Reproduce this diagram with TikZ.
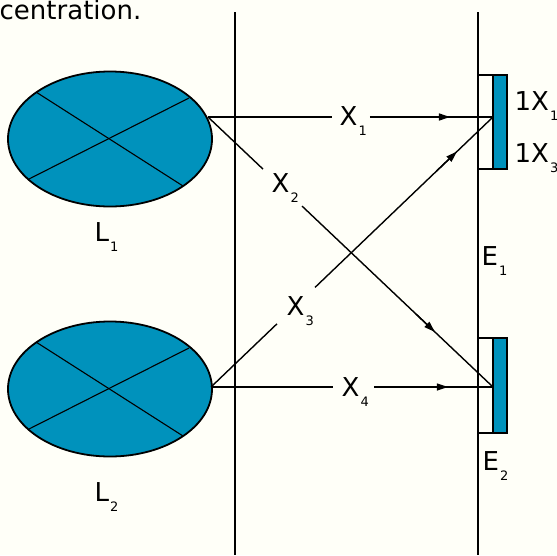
\documentclass[tikz,border=0pt]{standalone}
\usepackage{fontspec}
\setmainfont{DejaVu Sans}
\usetikzlibrary{arrows.meta,shapes.geometric,calc}
\definecolor{bg}{HTML}{FFFFF8}
\definecolor{lensblue}{HTML}{0092BC}
\newcommand\sublab[2]{#1\kern1pt\raisebox{-10pt}{\fontsize{13}{13}\selectfont #2}}
\begin{document}
\begin{tikzpicture}[x=1pt,y=-1pt,line width=1.4pt,
  lens/.style={ellipse,draw,fill=lensblue,line width=1.8pt,minimum width=204pt,minimum height=135pt,inner sep=0pt},
  cross/.style={line width=1.1pt},
  arr/.style={-{Triangle[length=11pt,width=7pt]}},
  wall/.style={line width=1.8pt},
  lbl/.style={font=\fontsize{26}{26}\selectfont,anchor=base west,inner sep=0pt},
  detw/.style={draw,fill=bg,line width=1.5pt},
  detb/.style={draw,fill=lensblue,line width=1.5pt}]
\fill[bg] (0,0) rectangle (557,555);
\useasboundingbox (0,0) rectangle (557,555);
% title fragment
\node[anchor=base west,inner sep=0pt,font=\fontsize{26}{26}\selectfont] (title) at (-1,19) {centration.};
% walls
\coordinate (w1t) at (235,12); \coordinate (w1b) at (235,555);
\coordinate (w2t) at (478,12); \coordinate (w2b) at (478,555);
\draw[wall] (w1t) -- (w1b);
\draw[wall] (w2t) -- (w2b);
% lenses
\node[lens] (L1) at (110,139) {};
\draw[cross] (L1.center) ++(-74,-47) -- ++(147,94);
\draw[cross] (L1.center) ++(79,-41) -- ++(-160,81);
\node[lens] (L2) at (110,389) {};
\draw[cross] (L2.center) ++(-74,-47) -- ++(147,94);
\draw[cross] (L2.center) ++(79,-41) -- ++(-160,81);
% detectors
\draw[detw] (478,75) rectangle (493,169);
\draw[detb] (493,75) rectangle (507,169);
\draw[detw] (478,338) rectangle (493,433);
\draw[detb] (493,338) rectangle (507,433);
% ray end points
\coordinate (s1) at (208,117);
\coordinate (t1) at (493,117);
\coordinate (s2) at (211,387);
\coordinate (t2) at (493,387);
% X1
\draw (s1) -- ($(s1)!0.435!(t1)$);
\draw ($(s1)!0.568!(t1)$) -- (t1);
\draw[arr] ($(s1)!0.78!(t1)$) -- ($(s1)!0.849!(t1)$);
% X2
\draw (s1) -- ($(s1)!0.193!(t2)$);
\draw ($(s1)!0.330!(t2)$) -- (t2);
\draw[arr] ($(s1)!0.73!(t2)$) -- ($(s1)!0.796!(t2)$);
% X3
\draw (s2) -- ($(s2)!0.234!(t1)$);
\draw ($(s2)!0.369!(t1)$) -- (t1);
\draw[arr] ($(s2)!0.80!(t1)$) -- ($(s2)!0.872!(t1)$);
% X4
\draw (s2) -- ($(s2)!0.433!(t2)$);
\draw ($(s2)!0.578!(t2)$) -- (t2);
\draw[arr] ($(s2)!0.77!(t2)$) -- ($(s2)!0.840!(t2)$);
% labels
\node[lbl] (lx1) at (339,125) {\sublab{X}{1}};
\node[lbl] (lx2) at (271,192) {\sublab{X}{2}};
\node[lbl] (lx3) at (286,315) {\sublab{X}{3}};
\node[lbl] (lx4) at (341,396) {\sublab{X}{4}};
\node[lbl] (ll1) at (94,241) {\sublab{L}{1}};
\node[lbl] (ll2) at (94,501) {\sublab{L}{2}};
\node[lbl] (le1) at (481,265) {\sublab{E}{1}};
\node[lbl] (le2) at (482,470) {\sublab{E}{2}};
\node[lbl] (ld1) at (514,110) {\sublab{1X}{1}};
\node[lbl] (ld3) at (514,162) {\sublab{1X}{3}};
\end{tikzpicture}
\end{document}
